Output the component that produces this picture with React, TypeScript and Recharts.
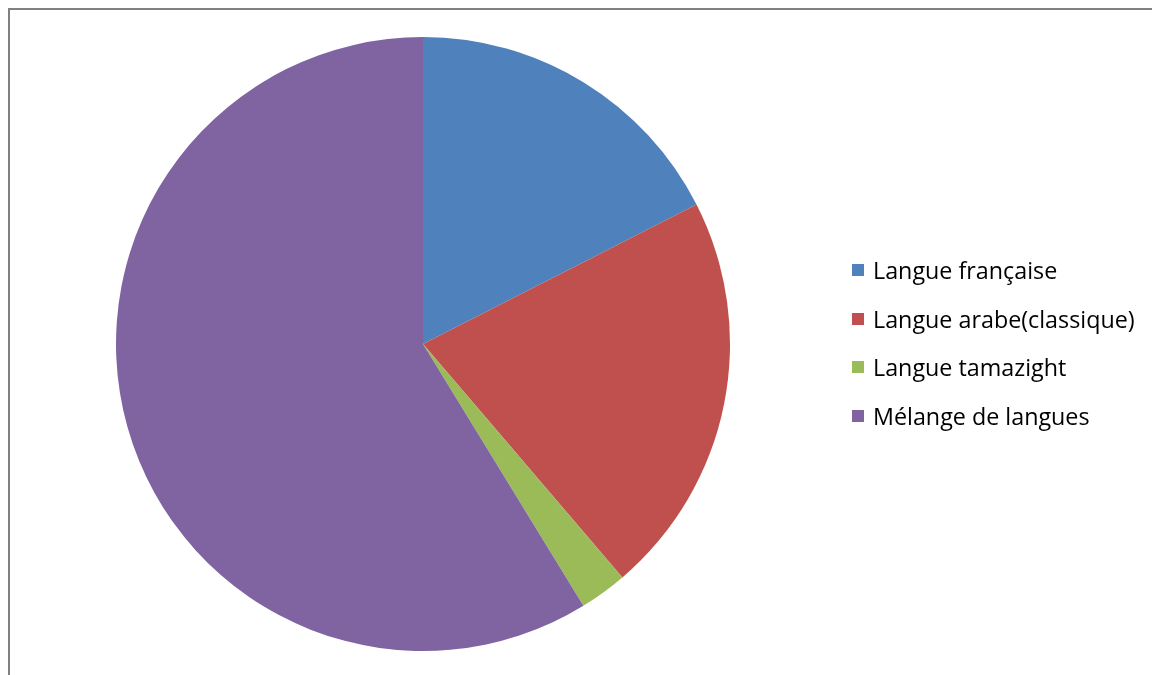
import React from "react";
import { PieChart, Pie, Cell, Legend } from "recharts";

const categories = [
  "Langue française",
  "Langue arabe(classique)",
  "Langue tamazight",
  "Mélange de langues",
];
const values = [14, 17, 2, 47];
const colors = ["#4F81BD", "#C0504D", "#9BBB59", "#8064A2"];

const data = categories.map((name, i) => ({ name, value: values[i] }));

const renderLegend = () => (
  <div style={{ fontFamily: "'Open Sans', 'Noto Sans', sans-serif", fontSize: 23.3, color: "#000" }}>
    {categories.map((c, i) => (
      <div key={c} style={{ display: "flex", alignItems: "center", height: 48.5, whiteSpace: "nowrap" }}>
        <span style={{ display: "inline-block", width: 12, height: 12, background: colors[i], marginRight: 9 }} />
        <span>{c}</span>
      </div>
    ))}
  </div>
);

export default function App() {
  return (
    <div style={{ width: 1136, height: 659, position: "relative" }}>
      <style>{"html,body{overflow:hidden}"}</style>
      <div
        style={{
          position: "fixed",
          left: 8,
          top: 8,
          width: 1170,
          height: 690,
          borderTop: "2px solid #808080",
          borderLeft: "2px solid #808080",
          boxSizing: "border-box",
        }}
      />
      <div style={{ position: "absolute", left: 2, top: 2 }}>
        <PieChart width={1130} height={655}>
          <Pie
            data={data}
            dataKey="value"
            nameKey="name"
            cx={408}
            cy={329}
            outerRadius={307}
            startAngle={90}
            endAngle={-270}
            stroke="none"
            isAnimationActive={false}
          >
            {data.map((d, i) => (
              <Cell key={d.name} fill={colors[i]} />
            ))}
          </Pie>
          <Legend
            layout="vertical"
            align="right"
            verticalAlign="top"
            content={renderLegend}
            wrapperStyle={{ left: 842, right: "auto", top: 236, width: 288 }}
          />
        </PieChart>
      </div>
    </div>
  );
}
